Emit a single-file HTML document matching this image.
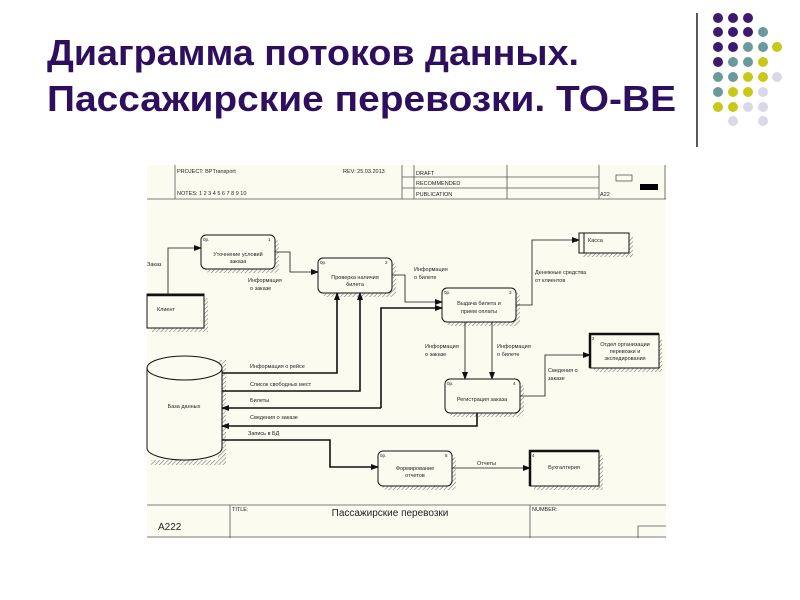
<!DOCTYPE html>
<html><head><meta charset="utf-8"><style>
html,body{margin:0;padding:0;background:#fff;width:800px;height:600px;overflow:hidden}
svg{display:block}
.t{font-family:"Liberation Sans",sans-serif;fill:#222}
</style></head><body>
<svg width="800" height="600" viewBox="0 0 800 600" xmlns="http://www.w3.org/2000/svg">
<defs>
<pattern id="h" width="3" height="3" patternUnits="userSpaceOnUse" patternTransform="rotate(45)"><rect width="3" height="3" fill="#fcfbf0"/><line x1="0" y1="0" x2="0" y2="3" stroke="#777" stroke-width="1.2"/></pattern>
<marker id="a" markerWidth="8" markerHeight="8" refX="7" refY="4" orient="auto" markerUnits="userSpaceOnUse"><path d="M0,1 L8,4 L0,7z" fill="#111"/></marker>
</defs>
<g font-family="Liberation Sans, sans-serif" font-weight="bold" fill="#2e0f5e" font-size="36">
<text x="47" y="65" textLength="532" lengthAdjust="spacingAndGlyphs">Диаграмма потоков данных.</text>
<text x="47" y="111" textLength="629" lengthAdjust="spacingAndGlyphs">Пассажирские перевозки. ТО-ВЕ</text>
</g>
<line x1="697" y1="13" x2="697" y2="147" stroke="#222" stroke-width="1.5"/>
<g>
<circle cx="718" cy="18" r="5" fill="#3d1a6e"/><circle cx="733" cy="18" r="5" fill="#3d1a6e"/><circle cx="748" cy="18" r="5" fill="#3d1a6e"/>
<circle cx="718" cy="32" r="5" fill="#3d1a6e"/><circle cx="733" cy="32" r="5" fill="#3d1a6e"/><circle cx="748" cy="32" r="5" fill="#3d1a6e"/><circle cx="763" cy="32" r="5" fill="#6a9a9a"/>
<circle cx="718" cy="47" r="5" fill="#3d1a6e"/><circle cx="733" cy="47" r="5" fill="#3d1a6e"/><circle cx="748" cy="47" r="5" fill="#6a9a9a"/><circle cx="763" cy="47" r="5" fill="#6a9a9a"/><circle cx="777" cy="47" r="5" fill="#c8c816"/>
<circle cx="718" cy="62" r="5" fill="#3d1a6e"/><circle cx="733" cy="62" r="5" fill="#6a9a9a"/><circle cx="748" cy="62" r="5" fill="#6a9a9a"/><circle cx="763" cy="62" r="5" fill="#c8c816"/>
<circle cx="718" cy="77" r="5" fill="#6a9a9a"/><circle cx="733" cy="77" r="5" fill="#6a9a9a"/><circle cx="748" cy="77" r="5" fill="#c8c816"/><circle cx="763" cy="77" r="5" fill="#c8c816"/><circle cx="777" cy="77" r="5" fill="#d8d8e8"/>
<circle cx="718" cy="92" r="5" fill="#6a9a9a"/><circle cx="733" cy="92" r="5" fill="#c8c816"/><circle cx="748" cy="92" r="5" fill="#c8c816"/><circle cx="763" cy="92" r="5" fill="#d8d8e8"/>
<circle cx="718" cy="107" r="5" fill="#c8c816"/><circle cx="733" cy="107" r="5" fill="#c8c816"/><circle cx="748" cy="107" r="5" fill="#d8d8e8"/><circle cx="763" cy="107" r="5" fill="#d8d8e8"/>
<circle cx="733" cy="121" r="5" fill="#d8d8e8"/><circle cx="763" cy="121" r="5" fill="#d8d8e8"/>
</g>
<rect x="147" y="165" width="519" height="373" fill="#fcfbf0"/>
<g stroke="#555" stroke-width="0.8" fill="none">
<line x1="147" y1="199" x2="666" y2="199"/>
<line x1="175" y1="165" x2="175" y2="199"/>
<line x1="402" y1="165" x2="402" y2="199"/>
<line x1="414" y1="165" x2="414" y2="199"/>
<line x1="507" y1="165" x2="507" y2="199"/>
<line x1="599" y1="165" x2="599" y2="199"/>
<line x1="402" y1="177" x2="599" y2="177"/>
<line x1="402" y1="188" x2="599" y2="188"/>
<line x1="665" y1="165" x2="665" y2="199"/>
<rect x="616" y="175" width="16" height="6"/>
<line x1="147" y1="505" x2="666" y2="505"/>
<line x1="230" y1="505" x2="230" y2="538"/>
<line x1="530" y1="505" x2="530" y2="538"/>
<line x1="147" y1="537" x2="666" y2="537"/>
<polyline points="638,538 638,526 666,526"/>
</g>
<rect x="640" y="184" width="18" height="6" fill="#000"/>
<g class="t" font-size="5.5">
<text x="177" y="173">PROJECT:  BPTransport</text>
<text x="177" y="195">NOTES:  1  2  3  4  5  6  7  8  9  10</text>
<text x="343" y="173">REV:  25.03.2013</text>
<text x="416" y="175">DRAFT</text>
<text x="416" y="185">RECOMMENDED</text>
<text x="416" y="196">PUBLICATION</text>
<text x="600" y="196">A22</text>
<text x="232" y="511">TITLE:</text>
<text x="532" y="511">NUMBER:</text>
</g>
<text class="t" x="158" y="530" font-size="10">A222</text>
<text class="t" x="390" y="516" font-size="10" text-anchor="middle">Пассажирские перевозки</text>

<g fill="url(#h)">
<rect x="205" y="239" width="74" height="34" rx="5"/>
<rect x="322" y="262" width="74" height="35" rx="5"/>
<rect x="446" y="292" width="74" height="34" rx="5"/>
<rect x="449" y="383" width="75" height="34" rx="5"/>
<rect x="382" y="455" width="74" height="35" rx="5"/>
<rect x="583" y="237" width="50" height="20"/>
<rect x="594" y="338" width="68" height="34"/>
<rect x="534" y="455" width="69" height="35"/>
<rect x="151" y="298" width="57" height="34"/>
<rect x="218" y="360" width="8" height="105"/>
<rect x="151" y="460" width="70" height="5"/>
</g>
<g stroke="#111" stroke-width="1" fill="#fcfbf0">
<rect x="201" y="235" width="74" height="34" rx="5"/>
<rect x="318" y="258" width="74" height="35" rx="5"/>
<rect x="442" y="288" width="74" height="34" rx="5"/>
<rect x="445" y="379" width="75" height="34" rx="5"/>
<rect x="378" y="451" width="74" height="35" rx="5"/>
<rect x="579" y="233" width="50" height="20"/>
<rect x="590" y="334" width="69" height="34"/>
<rect x="530" y="451" width="69" height="35"/>
<rect x="147" y="294" width="57" height="34"/>
<path d="M147,368 L147,448 A37.5,12 0 0 0 222,448 L222,368 A37.5,12 0 0 0 147,368 A37.5,12 0 0 0 222,368" />
</g>
<g stroke="#111" stroke-width="2.5" fill="none">
<line x1="147" y1="295" x2="204" y2="295"/>
<polyline points="590,368 590,334 659,334"/>
<polyline points="530,486 530,451 599,451"/>
</g>
<line x1="584" y1="233" x2="584" y2="253" stroke="#111"/>
<g class="t" font-size="5.5" text-anchor="middle">
<text x="238" y="256">Уточнение условий</text><text x="238" y="263">заказа</text>
<text x="355" y="279">Проверка наличия</text><text x="355" y="286">билета</text>
<text x="479" y="305">Выдача билета и</text><text x="479" y="313">прием оплаты</text>
<text x="482" y="401">Регистрация заказа</text>
<text x="415" y="470">Формирование</text><text x="415" y="477">отчетов</text>
<text x="166" y="311">Клиент</text>
<text x="184" y="408">База данных</text>
<text x="564" y="469">Бухгалтерия</text>
<text x="625" y="346">Отдел организации</text><text x="625" y="353">перевозки и</text><text x="625" y="360">экспедирования</text>
</g>
<g class="t" font-size="4.5">
<text x="203" y="241">0р.</text><text x="268" y="241">1</text>
<text x="320" y="264">0р.</text><text x="385" y="264">2</text>
<text x="444" y="294">0р.</text><text x="509" y="294">3</text>
<text x="447" y="385">0р.</text><text x="513" y="385">4</text>
<text x="380" y="457">0р.</text><text x="445" y="457">5</text>
<text x="575" y="242">4</text><text x="592" y="340">2</text><text x="532" y="457">4</text>
</g>
<g class="t" font-size="5.5">
<text x="588" y="242">Касса</text>
<text x="147" y="266">Заказ</text>
<text x="248" y="282">Информация</text><text x="250" y="290">о заказе</text>
<text x="414" y="271">Информация</text><text x="414" y="279">о билете</text>
<text x="535" y="274">Денежные средства</text><text x="535" y="282">от клиентов</text>
<text x="425" y="348">Информация</text><text x="425" y="356">о заказе</text>
<text x="497" y="348">Информация</text><text x="497" y="356">о билете</text>
<text x="548" y="372">Сведения о</text><text x="548" y="380">заказе</text>
<text x="250" y="368">Информация о рейсе</text>
<text x="250" y="386">Список свободных мест</text>
<text x="250" y="402">Билеты</text>
<text x="250" y="419">Сведения о заказе</text>
<text x="248" y="435">Запись в БД</text>
<text x="477" y="465">Отчеты</text>
</g>
<g stroke="#111" stroke-width="0.8" fill="none" marker-end="url(#a)">
<polyline points="168,294 168,248 201,248"/>
<polyline points="275,252 290,252 290,272 318,272"/>
<polyline points="392,275 405,275 405,302 442,302"/>
<polyline points="516,305 532,305 532,240 579,240"/>
<polyline points="465,322 465,379"/>
<polyline points="492,322 492,379"/>
<polyline points="520,396 545,396 545,355 590,355"/>
<polyline points="452,468 530,468"/>
</g>
<g stroke="#111" stroke-width="1.6" fill="none" marker-end="url(#a)">
<polyline points="222,373 337,373 337,293"/>
<polyline points="222,391 360,391 360,293"/>
<polyline points="381,408 381,308 442,308"/>
<polyline points="381,408 222,408"/>
<polyline points="477,413 477,426 222,426"/>
<polyline points="222,440 330,440 330,467 378,467"/>
</g>
</svg>
</body></html>
